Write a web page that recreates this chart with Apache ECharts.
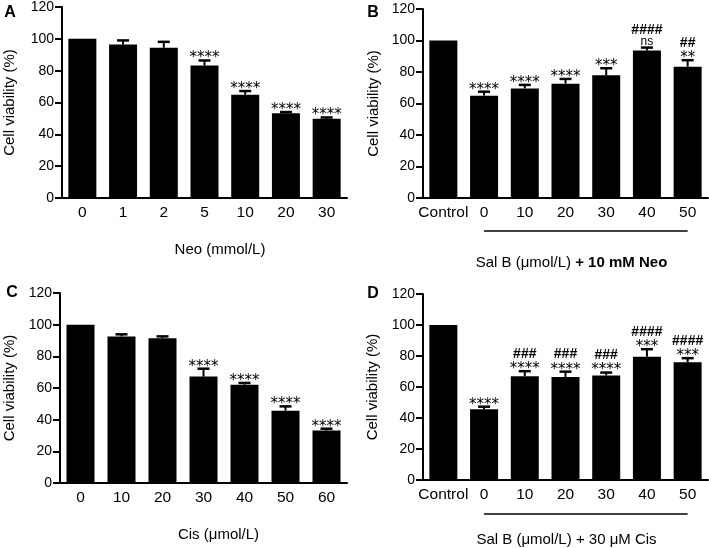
<!DOCTYPE html>
<html style="height: 100%">
<head>
    <meta charset="utf-8">
    <style>
        html, body {
            height: 100%;
            margin: 0;
            padding: 0;
            background: #fff;
            overflow: hidden;
        }
        #container { width: 709px; height: 548px; }
    </style>
</head>
<body>
    <div id="container"></div>
    <script src="https://cdn.jsdelivr.net/npm/echarts@6/dist/echarts.min.js"></script>
    <script>
        // panel A - Neo dose
        var catsA = ['0', '1', '2', '5', '10', '20', '30'];
        var meanA = [100, 96.4, 94.4, 83.3, 64.9, 53.3, 49.8];
        var sdA = [0, 2.6, 3.7, 3.1, 2.3, 0.7, 0.8];
        var annA = [[], [], [], ['****'], ['****'], ['****'], ['****']];

        // panel B - Sal B + 10 mM Neo
        var catsB = ['Control', '0', '10', '20', '30', '40', '50'];
        var meanB = [100, 65, 69.6, 72.6, 77.9, 93.6, 83.4];
        var sdB = [0, 2.5, 2.2, 3, 4.5, 1.9, 4.1];
        var annB = [[], ['****'], ['****'], ['****'], ['***'], ['ns', '####'], ['**', '##']];

        // panel C - Cis dose
        var catsC = ['0', '10', '20', '30', '40', '50', '60'];
        var meanC = [100, 92.6, 91.4, 67.2, 62.1, 45.7, 33.1];
        var sdC = [0, 1.3, 1.2, 5, 1.1, 2.7, 1.2];
        var annC = [[], [], [], ['****'], ['****'], ['****'], ['****']];

        // panel D - Sal B + 30 uM Cis
        var catsD = ['Control', '0', '10', '20', '30', '40', '50'];
        var meanD = [100, 45.6, 67, 66.5, 67.5, 79.5, 76];
        var sdD = [0, 1.7, 3.2, 3.4, 1.8, 4.9, 2.6];
        var annD = [[], ['****'], ['****', '###'], ['****', '###'], ['****', '###'], ['***', '####'], ['***', '####']];

        var yTicks = [0, 20, 40, 60, 80, 100, 120];

        var FONT = '"Liberation Sans", Arial, Helvetica, sans-serif';

        var dom = document.getElementById('container');
        var myChart = echarts.init(dom, null, { renderer: 'canvas' });

        function textStyleFor(s) {
            if (s[0] === '*') {
                return { fontSize: 15, fontFamily: '"DejaVu Sans", sans-serif', fontWeight: 'normal', shift: 4 };
            }
            if (s[0] === '#') {
                return { fontSize: 14, fontFamily: FONT, fontWeight: 'bold', shift: 0 };
            }
            return { fontSize: 12, fontFamily: FONT, fontWeight: 'normal', shift: 0 };
        }

        function makeRender(ann) {
            return function (params, api) {
                var j = api.value(0);
                var base = api.coord([j, api.value(1)]);
                var top = api.coord([j, api.value(2)]);
                var children = [];
                if (api.value(2) > api.value(1)) {
                    children.push({
                        type: 'line',
                        shape: { x1: base[0], y1: base[1], x2: base[0], y2: top[1] },
                        style: { stroke: '#000', lineWidth: 2 }
                    });
                    children.push({
                        type: 'line',
                        shape: { x1: base[0] - 6, y1: top[1], x2: base[0] + 6, y2: top[1] },
                        style: { stroke: '#000', lineWidth: 2.5 }
                    });
                }
                var c = top[1] - 6;
                (ann[params.dataIndex] || []).forEach(function (s) {
                    var ts = textStyleFor(s);
                    children.push({
                        type: 'text',
                        style: {
                            text: s,
                            x: base[0],
                            y: c + ts.shift,
                            align: 'center',
                            verticalAlign: 'middle',
                            fontSize: ts.fontSize,
                            fontFamily: ts.fontFamily,
                            fontWeight: ts.fontWeight,
                            fill: '#000'
                        }
                    });
                    c -= 11.5;
                });
                return { type: 'group', children: children };
            };
        }

        var panels = [
            { cats: catsA, mean: meanA, sd: sdA, ann: annA,
              grid: { left: 62, top: 7, width: 285, height: 191 },
              xName: 'Neo (mmol/L)', xGap: 44, xPad: [0, 0, 0, 31], yGap: 45 },
            { cats: catsB, mean: meanB, sd: sdB, ann: annB,
              grid: { left: 423, top: 9, width: 285, height: 189 },
              xName: '{n|Sal B (μmol/L) }{b|+ 10 mM Neo}', xGap: 57, xPad: [0, 0, 0, 12], yGap: 42 },
            { cats: catsC, mean: meanC, sd: sdC, ann: annC,
              grid: { left: 60, top: 293, width: 287, height: 190 },
              xName: 'Cis (μmol/L)', xGap: 44, xPad: [0, 0, 0, 30], yGap: 43 },
            { cats: catsD, mean: meanD, sd: sdD, ann: annD,
              grid: { left: 423, top: 294, width: 285, height: 189 },
              xName: '{n|Sal B (μmol/L) + 30 μM Cis}', xGap: 52, xPad: [0, 0, 0, 2], yGap: 43 }
        ];

        var grids = [], xAxes = [], yAxes = [], series = [];
        panels.forEach(function (p, i) {
            grids.push(p.grid);
            xAxes.push({
                type: 'category',
                gridIndex: i,
                data: p.cats,
                name: p.xName,
                nameLocation: 'middle',
                nameGap: p.xGap,
                nameTextStyle: {
                    color: '#000', fontSize: 15, fontFamily: FONT, padding: p.xPad,
                    rich: {
                        n: { color: '#000', fontSize: 15, fontFamily: FONT },
                        b: { color: '#000', fontSize: 15, fontFamily: FONT, fontWeight: 'bold' }
                    }
                },
                axisLine: { lineStyle: { color: '#000', width: 2 } },
                axisTick: { alignWithLabel: true, length: 5, lineStyle: { color: '#000', width: 2 } },
                axisLabel: { color: '#000', fontSize: 15.5, fontFamily: FONT, margin: 7, interval: 0 },
                splitLine: { show: false }
            });
            yAxes.push({
                type: 'value',
                gridIndex: i,
                min: yTicks[0],
                max: yTicks[yTicks.length - 1],
                interval: yTicks[1] - yTicks[0],
                name: 'Cell viability (%)',
                nameLocation: 'middle',
                nameGap: p.yGap,
                nameTextStyle: { color: '#000', fontSize: 15, fontFamily: FONT },
                axisLine: { show: true, lineStyle: { color: '#000', width: 2 } },
                axisTick: { show: true, length: 7, lineStyle: { color: '#000', width: 2 } },
                axisLabel: { color: '#000', fontSize: 14, fontFamily: FONT, margin: 8 },
                splitLine: { show: false }
            });
            series.push({
                type: 'bar',
                xAxisIndex: i,
                yAxisIndex: i,
                data: p.mean,
                barWidth: 28,
                silent: true,
                itemStyle: { color: '#000' }
            });
            series.push({
                type: 'custom',
                xAxisIndex: i,
                yAxisIndex: i,
                silent: true,
                clip: false,
                z: 5,
                encode: { x: 0, y: [1, 2] },
                data: p.mean.map(function (m, j) { return [j, m, m + p.sd[j]]; }),
                renderItem: makeRender(p.ann)
            });
        });

        var letters = [
            { t: 'A', x: 10, y: 13 },
            { t: 'B', x: 373, y: 13 },
            { t: 'C', x: 12, y: 293 },
            { t: 'D', x: 373, y: 294 }
        ];

        var option = {
            animation: false,
            backgroundColor: '#fff',
            grid: grids,
            xAxis: xAxes,
            yAxis: yAxes,
            series: series,
            graphic: letters.map(function (l) {
                return {
                    type: 'text',
                    x: l.x,
                    y: l.y,
                    style: {
                        text: l.t, align: 'center', verticalAlign: 'middle',
                        fontSize: 16, fontWeight: 'bold', fontFamily: FONT, fill: '#000'
                    }
                };
            })
        };
        myChart.setOption(option);

        // underline under the Sal B groups (panels B and D)
        var extra = [];
        [{ g: 1, dy: 33 }, { g: 3, dy: 34 }].forEach(function (u) {
            var p0 = myChart.convertToPixel({ gridIndex: u.g }, ['0', 0]);
            var p1 = myChart.convertToPixel({ gridIndex: u.g }, ['50', 0]);
            extra.push({
                type: 'line',
                shape: { x1: p0[0], y1: p0[1] + u.dy, x2: p1[0], y2: p1[1] + u.dy },
                style: { stroke: '#000', lineWidth: 1.5 }
            });
        });
        myChart.setOption({ graphic: option.graphic.concat(extra) });
    </script>
</body>
</html>
